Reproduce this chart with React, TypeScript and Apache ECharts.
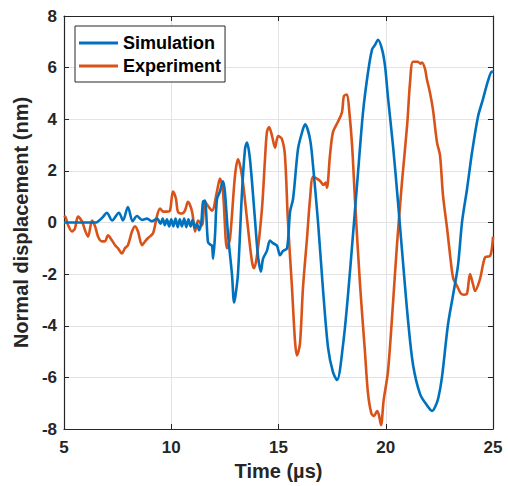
import React, { useEffect, useRef } from "react";
import * as echarts from "echarts";

const xTicks = { min: 5, max: 25, interval: 5 };
const yTicks = { min: -8, max: 8, interval: 2 };

const seriesNames = ["Simulation", "Experiment"];

const simulation: [number, number][] = [
  [5, 0], [6.5, 0], [6.6, 0.05], [6.8, 0.2], [7.0, 0.38], [7.24, 0.08], [7.56, 0.38], [7.75, 0.08],
  [7.98, 0.6], [8.2, 0.05], [8.4, 0.25], [8.64, 0.1], [8.87, 0.15], [9.1, 0.05], [9.34, 0.15],
  [9.5, -0.05], [9.6, 0.15], [9.7, -0.1], [9.8, 0.12], [9.9, -0.15], [10.0, 0.12], [10.1, -0.15],
  [10.2, 0.15], [10.3, -0.18], [10.4, 0.12], [10.5, -0.15], [10.6, 0.15], [10.7, -0.18], [10.8, 0.12],
  [10.9, -0.15], [11.0, 0.1], [11.1, -0.2], [11.2, -0.05], [11.3, -0.3], [11.4, 0.0], [11.48, 0.8],
  [11.57, 0.85], [11.71, -0.75], [11.81, -0.85], [11.9, -0.9], [11.95, -1.4], [12.04, -0.5],
  [12.13, 0.9], [12.27, 1.2], [12.41, 1.6], [12.5, 1.2], [12.65, -0.5], [12.83, -2.0], [12.93, -3.1],
  [13.0, -2.8], [13.11, -2.0], [13.3, 1.2], [13.44, 2.85], [13.53, 3.1], [13.67, 2.45], [13.9, 0.15],
  [14.04, -1.27], [14.18, -1.9], [14.28, -1.4], [14.46, -1.1], [14.6, -0.7], [14.74, -0.8],
  [14.93, -0.9], [15.07, -1.27], [15.21, -1.1], [15.4, -1.0], [15.54, 0.42], [15.68, 0.92],
  [15.91, 2.85], [16.1, 3.5], [16.24, 3.8], [16.47, 3.23], [16.61, 2.2], [16.84, 0.04],
  [17.07, -2.54], [17.31, -4.85], [17.54, -5.8], [17.73, -6.1], [18.01, -4.73], [18.24, -2.8],
  [18.47, -0.5], [18.71, 1.96], [18.94, 4.27], [19.17, 5.8], [19.36, 6.7], [19.5, 6.88],
  [19.64, 7.08], [19.83, 6.7], [19.97, 6.04], [20.1, 4.88], [20.34, 2.96], [20.57, 0.8],
  [20.8, -1.5], [21.04, -3.8], [21.27, -5.5], [21.6, -6.65], [21.92, -7.08], [22.16, -7.3],
  [22.3, -7.15], [22.45, -6.8], [22.62, -6.0], [22.9, -3.96], [23.14, -2.8], [23.37, -1.65],
  [23.56, 0.04], [23.79, 1.3], [24.02, 2.7], [24.3, 4.1], [24.53, 4.77], [24.77, 5.5],
  [24.95, 5.85], [25, 5.8],
];

const experiment: [number, number][] = [
  [5.0, 0.2], [5.05, 0.23], [5.19, -0.1], [5.37, -0.35], [5.51, -0.23], [5.65, 0.23], [5.84, 0.04],
  [5.98, -0.3], [6.12, -0.55], [6.31, 0.08], [6.45, -0.15], [6.59, -0.55], [6.77, -0.73],
  [6.91, -0.73], [7.05, -0.5], [7.24, -0.7], [7.38, -0.88], [7.52, -1.0], [7.7, -1.2], [7.84, -1.0],
  [7.98, -0.88], [8.17, -0.35], [8.31, -0.15], [8.45, -0.35], [8.64, -0.88], [8.78, -0.73],
  [8.92, -0.6], [9.15, -0.42], [9.34, 0.27], [9.48, 0.54], [9.62, 0.42], [9.8, 0.42], [9.94, 0.46],
  [10.08, 1.2], [10.22, 0.92], [10.31, 0.42], [10.5, 0.35], [10.64, 0.46], [10.78, 0.8],
  [10.97, 0.42], [11.11, -0.35], [11.25, 0.08], [11.43, -0.1], [11.57, 0.8], [11.71, 0.65],
  [11.9, 0.46], [12.13, 1.2], [12.27, 1.7], [12.41, 1.2], [12.6, -1.0], [12.74, -0.6], [12.97, 1.8],
  [13.11, 2.45], [13.3, 1.8], [13.53, 0.15], [13.76, -1.5], [13.86, -1.77], [14.0, -1.27],
  [14.23, 0.54], [14.37, 2.45], [14.46, 3.5], [14.56, 3.7], [14.7, 3.35], [14.84, 2.9],
  [14.98, 3.35], [15.16, 3.23], [15.3, 2.6], [15.44, 0.04], [15.63, -2.54], [15.77, -4.6],
  [15.86, -5.15], [16.0, -4.7], [16.14, -2.54], [16.33, -0.6], [16.47, 0.92], [16.61, 1.77],
  [16.79, 1.7], [16.95, 1.6], [17.1, 1.45], [17.2, 1.55], [17.26, 1.35], [17.4, 2.6], [17.54, 3.5],
  [17.77, 3.9], [17.96, 4.27], [18.05, 4.9], [18.19, 4.96], [18.3, 4.3], [18.43, 3.0], [18.57, 0.8],
  [18.8, -2.4], [19.03, -5.0], [19.17, -6.6], [19.33, -7.4], [19.45, -7.5], [19.6, -7.3],
  [19.68, -7.45], [19.78, -7.85], [19.9, -6.9], [20.1, -5.8], [20.3, -3.6], [20.52, -0.9],
  [20.76, 1.6], [21.0, 3.8], [21.13, 5.4], [21.27, 6.23], [21.5, 6.23], [21.62, 6.15], [21.69, 6.2],
  [21.83, 5.95], [21.92, 5.54], [22.06, 5.04], [22.2, 4.38], [22.39, 3.1], [22.53, 2.6],
  [22.67, 1.04], [22.86, -0.23], [23.0, -1.27], [23.14, -2.15], [23.32, -2.45], [23.5, -2.75],
  [23.65, -2.8], [23.79, -2.75], [23.93, -2.0], [24.07, -2.4], [24.16, -2.65], [24.39, -2.2],
  [24.63, -1.35], [24.86, -1.3], [24.95, -1.0], [25.0, -0.55],
];

const FONT = "'Liberation Sans', Arial, Helvetica, sans-serif";
const AXIS = "#262626";
const GRID = "#e3e3e3";

export default function App() {
  const ref = useRef<HTMLDivElement>(null);
  useEffect(() => {
    if (!ref.current) return;
    const chart = echarts.init(ref.current, undefined, { renderer: "svg" });
    const tickStyle = { inside: true, length: 5, lineStyle: { color: AXIS, width: 1 } };
    const axisLine = { show: true, onZero: false, lineStyle: { color: AXIS, width: 1.2 } };
    chart.setOption({
      animation: false,
      backgroundColor: "#fff",
      grid: { left: 64, right: 15, top: 16, bottom: 54, containLabel: false },
      legend: {
        data: seriesNames,
        orient: "vertical",
        left: 75,
        top: 26,
        padding: [8, 4, 7, 4],
        itemGap: 5,
        itemWidth: 39,
        itemHeight: 3,
        itemTextGap: 4,
        icon: "rect",
        backgroundColor: "#fff",
        borderColor: AXIS,
        borderWidth: 1,
        borderRadius: 0,
        textStyle: { fontFamily: FONT, fontWeight: "bold", fontSize: 18, color: "#000", lineHeight: 18 },
      },
      xAxis: [
        {
          type: "value",
          ...xTicks,
          position: "bottom",
          name: "Time (µs)",
          nameLocation: "middle",
          nameGap: 32,
          nameTextStyle: { fontFamily: FONT, fontWeight: "bold", fontSize: 20, color: AXIS },
          axisLine,
          axisTick: tickStyle,
          axisLabel: { fontFamily: FONT, fontWeight: "bold", fontSize: 17, color: AXIS, margin: 10 },
          splitLine: { show: true, lineStyle: { color: GRID, width: 1 } },
        },
        {
          type: "value",
          ...xTicks,
          position: "top",
          axisLine,
          axisTick: tickStyle,
          axisLabel: { show: false },
          splitLine: { show: false },
        },
      ],
      yAxis: [
        {
          type: "value",
          ...yTicks,
          position: "left",
          name: "Normal displacement (nm)",
          nameLocation: "middle",
          nameGap: 30,
          nameTextStyle: { fontFamily: FONT, fontWeight: "bold", fontSize: 20, color: AXIS },
          axisLine,
          axisTick: tickStyle,
          axisLabel: { fontFamily: FONT, fontWeight: "bold", fontSize: 17, color: AXIS, margin: 7 },
          splitLine: { show: true, lineStyle: { color: GRID, width: 1 } },
        },
        {
          type: "value",
          ...yTicks,
          position: "right",
          axisLine,
          axisTick: tickStyle,
          axisLabel: { show: false },
          splitLine: { show: false },
        },
      ],
      series: [
        {
          name: seriesNames[0],
          type: "line",
          data: simulation,
          showSymbol: false,
          smooth: 0.3,
          lineStyle: { color: "#0072BD", width: 2.6 },
          itemStyle: { color: "#0072BD" },
          z: 3,
        },
        {
          name: seriesNames[1],
          type: "line",
          data: experiment,
          showSymbol: false,
          smooth: 0.3,
          lineStyle: { color: "#D95319", width: 2.6 },
          itemStyle: { color: "#D95319" },
          z: 2,
        },
      ],
    });
    return () => chart.dispose();
  }, []);
  return <div ref={ref} style={{ width: 508, height: 486, position: "absolute", left: 0, top: 0 }} />;
}
